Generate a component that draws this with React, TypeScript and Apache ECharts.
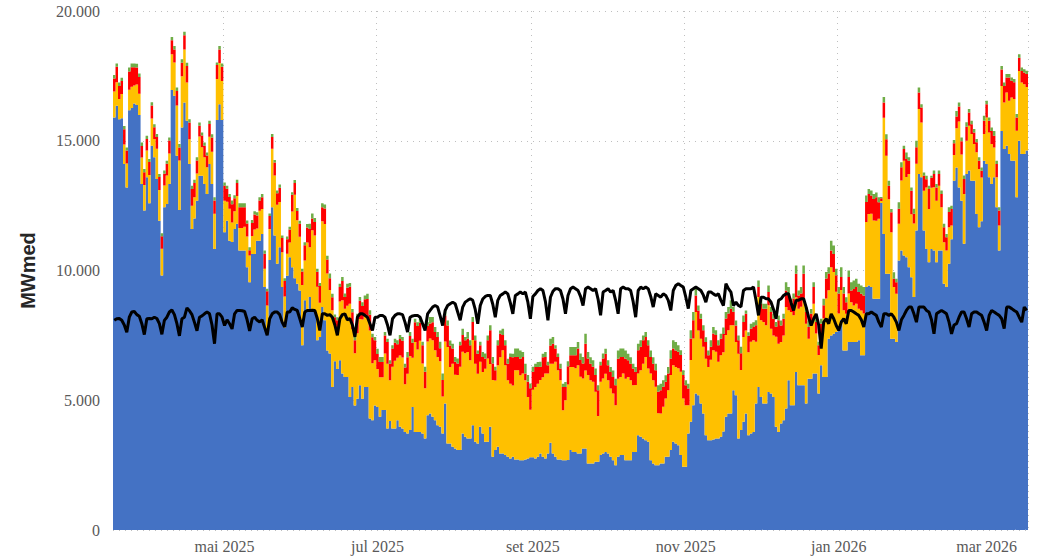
import React, { useEffect, useRef } from "react";
import * as echarts from "echarts";

const START_DATE = "2025-03-18";
const DAY_COUNT = 365;
const MONTHS_PT = ["jan", "fev", "mar", "abr", "mai", "jun", "jul", "ago", "set", "out", "nov", "dez"];
const LABEL_MONTHS = [0, 2, 4, 6, 8, 10];
const Y_TICKS = [0, 5000, 10000, 15000, 20000];

const blue = [
  15900,16350,15830,15870,14100,13200,16180,16260,16440,16380,
  15990,13330,12310,13590,12590,14810,14360,13530,11920,9810,
  12440,12560,13330,16960,16730,14420,12330,15510,16470,15770,
  14100,11600,12000,12690,13650,13650,13330,12950,14100,13330,
  10830,15800,16410,15800,11470,11920,11150,11100,11600,11800,
  10770,10770,10770,10130,9550,10640,10640,11150,11150,11410,
  9360,7700,10400,12440,11350,10260,10900,9360,7800,9800,
  10510,10130,9700,9490,9230,7120,8850,8460,8980,8460,
  8460,7310,7440,8590,8080,6920,6800,5510,6500,6200,
  6540,6030,5900,5900,5130,5510,4800,5060,5580,5060,
  5510,5510,4300,4230,4800,4740,4360,4620,4620,3910,
  4200,3910,3910,4230,3980,3910,3780,3720,3850,4740,
  3780,3780,3780,3720,3530,4420,4490,4360,4230,4040,
  3980,3720,4870,3330,3330,3210,3140,3080,3080,3720,
  3590,3530,3530,4040,3400,3330,3980,3720,3400,3400,
  3980,2820,3080,3210,2950,2950,2890,2820,2760,2820,
  2720,2720,2690,2690,2720,2760,2800,2800,2760,2820,
  2950,2820,2760,2950,3360,2950,2820,2720,2720,2690,
  2690,2700,3080,3010,3010,2950,2950,3140,3140,2560,
  2560,2560,2630,2630,2890,2950,3010,2950,2820,2690,
  2500,2820,2890,2890,2690,2690,2690,3010,3010,3650,
  3590,3530,3460,3400,2690,2560,2500,2500,2560,2560,
  2820,2820,3080,3400,3330,3270,2890,2440,2440,3720,
  4170,4810,5260,5190,4870,4490,3650,3460,3460,3490,
  3530,3530,3590,3800,4360,4490,4490,5390,5190,3530,
  3850,4170,4490,3650,3720,3780,4870,5510,5130,4870,
  4870,5320,5260,5130,3980,3780,4100,4230,4680,5770,
  4810,4810,6090,5580,5580,5580,4870,5830,5830,6030,
  6030,5260,6350,5900,5900,7370,7500,7560,7630,7690,
  8080,6920,6920,7240,7240,7240,7240,7310,6730,6730,
  9360,9420,9360,8910,8910,8910,12600,11410,9870,9870,
  7370,7370,7240,10390,10770,10580,10510,10130,9740,8980,
  11540,13720,13590,11540,10830,10320,10830,10770,10320,10770,
  10770,9490,9360,10260,11200,13460,13970,13200,12690,11030,
  13720,13850,13460,13460,12180,11670,11900,14230,14100,13590,
  13330,13590,12440,10770,15380,14680,14810,14490,14230,14230,
  12820,15000,14490,14490,14620
];

const yellow = [
  1000,900,780,930,760,920,790,820,690,790,
  820,1020,980,1030,1090,1050,710,1160,1180,1030,
  840,1100,1180,1370,1290,1940,1910,1980,2050,1470,
  960,900,820,1050,1510,1100,1030,1030,1050,1250,
  1360,1580,1590,1500,1220,730,1230,750,680,1070,
  870,870,920,1180,1030,690,940,470,1150,960,
  710,950,1200,2250,2310,2270,1740,1340,1200,850,
  570,2140,3220,2450,2070,2320,1540,2620,1920,3090,
  2890,2060,1320,3310,3710,2960,2450,2960,1400,1530,
  2270,2820,2630,2740,3590,2240,2010,2520,2550,3050,
  2800,2750,3390,2200,1740,1460,1530,1270,2180,2500,
  1570,2380,2610,2410,2740,2740,1840,2300,2860,1900,
  3460,3180,3510,2700,1930,2840,2890,2950,2700,2630,
  2520,1420,2390,3720,2950,3200,2840,2890,3210,3150,
  3220,3330,3010,3280,3010,2690,2500,2370,2810,3210,
  2420,2960,2680,3140,3710,3980,3460,2950,2880,2750,
  3440,3440,3270,3340,3050,2370,1830,2600,2750,2820,
  2830,3070,3270,3080,3050,3460,3660,3440,3050,1920,
  2310,2910,3200,3270,3220,3400,2960,2700,3010,3410,
  3210,3150,2700,1760,2820,2890,3010,2820,2630,2570,
  2310,3010,3010,3140,3140,3210,3080,2570,2580,2380,
  2570,2880,3210,2820,3340,3210,3020,2000,1930,2190,
  2250,2570,2890,2950,2950,2960,3210,2630,2370,1090,
  2380,2570,3140,2500,2500,2570,2950,2820,3100,3440,
  3340,2950,3140,3050,3150,3210,3400,2500,2050,3260,
  2320,3270,3200,3200,3530,3530,2380,3470,2950,3150,
  3020,3340,2500,2370,3470,3400,3140,3270,3910,2700,
  3590,3470,2880,2950,3020,3260,3080,1540,2050,2690,
  1540,1480,1150,2260,3020,1870,2630,2380,1550,650,
  1170,1550,1410,1870,1540,1410,1480,1220,1730,1610,
  2510,2760,2830,3020,3010,3080,80,4480,4550,2880,
  4100,1990,1860,1410,2700,3650,3090,3590,2430,2830,
  2570,2500,2110,1530,2370,2050,2360,2440,2370,2500,
  1670,1600,1410,1410,530,990,1510,2540,1780,1920,
  1280,1730,1800,1410,2380,2240,1680,1030,1800,1730,
  1540,1150,1150,960,1730,1790,2050,2050,2440,2380,
  2570,2690,2750,2690,2450
];

const red = [
  500,600,500,500,580,500,700,750,700,650,
  650,450,500,450,500,500,450,450,500,480,
  450,450,500,540,500,560,500,520,550,640,
  640,640,550,500,420,450,450,450,500,550,
  510,540,520,550,580,500,450,700,500,500,
  800,800,750,500,200,500,580,500,400,450,
  580,550,500,450,500,450,550,550,600,550,
  500,650,450,350,500,520,580,580,700,450,
  520,580,640,540,600,540,450,500,300,350,
  550,750,450,700,650,640,500,600,700,520,
  580,640,600,1000,770,580,580,580,700,830,
  640,700,700,520,640,640,640,640,770,580,
  770,900,700,700,640,600,580,700,700,770,
  500,640,1000,830,830,580,500,450,830,640,
  500,520,580,700,900,770,640,580,400,700,
  1300,640,400,770,900,580,770,640,1030,1090,
  510,510,640,640,260,580,830,700,770,640,
  510,770,640,320,700,770,510,510,450,900,
  510,700,450,450,500,640,640,580,1030,640,
  640,580,640,1000,640,770,770,580,640,640,
  770,770,770,640,770,640,640,640,500,900,
  900,900,770,900,640,640,640,830,900,770,
  640,640,640,640,640,640,640,900,770,640,
  830,700,640,770,770,640,640,450,500,640,
  640,640,640,700,640,640,640,520,640,520,
  640,580,640,640,510,510,640,380,640,510,
  640,510,640,640,380,900,640,640,640,640,
  320,640,900,510,510,1030,450,450,450,640,
  450,380,450,500,770,640,640,700,640,770,
  500,640,450,640,450,640,640,640,640,700,
  770,770,700,830,900,640,100,580,640,520,
  770,320,450,580,510,450,700,510,900,380,
  640,640,580,580,320,770,380,510,510,450,
  510,580,510,580,640,450,450,580,510,580,
  540,510,380,450,380,320,260,510,510,450,
  510,450,510,580,640,640,580,900,640,640,
  510,510,450,450,500
];

const green = [
  130,130,130,130,130,120,150,150,150,150,
  130,130,120,120,120,120,120,120,120,120,
  120,120,120,130,130,130,130,130,130,130,
  130,130,130,120,120,120,120,120,120,120,
  120,100,130,130,120,120,120,150,120,130,
  150,150,150,120,120,120,120,120,120,130,
  120,100,100,120,100,100,120,100,100,110,
  110,100,120,120,120,110,120,130,200,200,
  150,120,120,150,150,150,180,130,100,120,
  130,150,130,150,150,130,130,150,150,150,
  150,200,180,130,130,200,200,200,130,130,
  130,130,150,150,150,150,150,200,150,150,
  130,150,150,130,190,150,250,200,190,190,
  250,250,200,190,190,190,190,190,130,250,
  130,250,190,190,190,130,130,190,190,190,
  190,250,130,190,130,250,190,190,130,130,
  320,320,320,190,380,260,190,190,130,190,
  190,130,190,130,260,260,130,130,190,130,
  190,190,320,320,320,250,250,250,380,250,
  250,250,250,190,130,190,190,190,190,250,
  250,320,320,320,320,250,250,190,190,250,
  250,190,190,190,250,250,250,250,250,250,
  250,250,320,320,320,250,190,190,190,190,
  320,320,320,190,190,190,190,190,250,250,
  190,190,190,250,250,250,320,190,190,190,
  250,250,130,130,190,190,190,250,190,190,
  190,250,190,190,190,190,190,190,320,250,
  190,190,320,190,250,320,190,250,190,190,
  190,130,190,250,250,250,380,320,250,250,
  380,250,190,250,320,320,320,320,320,320,
  250,190,190,190,190,190,50,220,190,190,
  130,250,130,250,190,130,250,130,130,190,
  250,190,130,130,130,130,80,130,130,130,
  130,130,130,190,130,130,220,150,150,130,
  170,130,130,130,130,130,130,190,130,130,
  130,190,130,130,130,130,130,130,130,130,
  130,130,130,130,130
];

const load = [
  8080,8140,8150,8080,7900,7620,8200,
  8400,8420,8300,8240,7950,7530,8140,
  8150,8140,8200,8150,7950,7540,8080,
  8200,8400,8480,8300,7950,7480,8140,
  8200,8560,8450,8300,8000,7680,8200,
  8250,8330,8400,8330,7900,7180,8330,
  8330,8200,7880,8100,7950,7750,8330,
  8460,8460,8450,8420,8100,7670,8140,
  8200,8080,8020,8100,7800,7500,8140,
  8330,8400,8400,8300,8000,7820,8400,
  8400,8560,8500,8460,8150,7820,8400,
  8460,8460,8470,8460,8150,7690,8330,
  8330,8270,8300,8200,7900,7500,8140,
  8300,8330,8100,8150,7900,7440,8200,
  8330,8330,8270,8200,7950,7690,8200,
  8200,8270,8270,8200,7900,7500,8140,
  8270,8330,8330,8300,8000,7630,8200,
  8250,8270,8270,8200,7950,7690,8330,
  8460,8590,8650,8590,8250,7880,8460,
  8650,8720,8780,8720,8400,8080,8590,
  8780,8850,8910,8850,8500,7950,8650,
  8900,9000,9040,9040,8700,8200,8850,
  9040,9100,9170,9100,8750,8330,9040,
  9100,9170,9100,9170,8780,8140,9000,
  9100,9230,9300,9230,8800,8080,8970,
  9200,9300,9300,9230,8900,8330,9040,
  9300,9360,9300,9230,9000,8650,9300,
  9360,9300,9230,9300,8900,8270,9170,
  9230,9300,9170,9230,8850,8330,9300,
  9360,9300,9300,9230,8800,8200,9230,
  9360,9300,9360,9300,9000,8590,9100,
  9040,8970,9100,9040,8850,8460,9230,
  9420,9490,9420,9360,8970,8530,9230,
  9300,9360,9300,9230,9050,8780,9170,
  9170,9100,9040,9100,8850,8650,9490,
  9300,9170,8650,8780,8650,8600,9230,
  9300,9300,9300,9360,8850,8270,8970,
  8970,8910,8910,8780,8500,8140,8850,
  8910,9040,9100,9100,8750,8460,8850,
  8850,8910,8910,8590,8200,7880,8140,
  8330,7900,6990,8010,8140,7950,8330,
  8140,7880,7690,8010,8140,7950,8460,
  8460,8400,8330,8270,8100,7820,8330,
  8330,8400,8330,8270,8010,7820,8330,
  8330,8270,8330,8200,8010,7690,8100,
  8270,8460,8590,8590,8330,8010,8590,
  8590,8590,8460,8400,8100,7560,8330,
  8400,8460,8400,8330,8010,7560,7900,
  7950,8200,8400,8400,8140,7820,8330,
  8400,8400,8330,8270,8010,7690,8270,
  8460,8400,8330,8270,8140,7760,8590,
  8590,8530,8460,8400,8200,8010,8590,
  8460
];

function buildDates(): string[] {
  const out: string[] = [];
  const [y, m, d] = START_DATE.split("-").map(Number);
  const t0 = Date.UTC(y, m - 1, d);
  for (let i = 0; i < DAY_COUNT; i++) {
    const dt = new Date(t0 + i * 86400000);
    const mm = String(dt.getUTCMonth() + 1).padStart(2, "0");
    const dd = String(dt.getUTCDate()).padStart(2, "0");
    out.push(`${dt.getUTCFullYear()}-${mm}-${dd}`);
  }
  return out;
}

function isLabelDay(v: string): boolean {
  const parts = v.split("-");
  return parts[2] === "01" && LABEL_MONTHS.indexOf(Number(parts[1]) - 1) >= 0;
}

function fmtDate(v: string): string {
  const parts = v.split("-");
  return `${MONTHS_PT[Number(parts[1]) - 1]} ${parts[0]}`;
}

function fmtNum(v: number): string {
  return String(Math.round(v)).replace(/\B(?=(\d{3})+(?!\d))/g, ".");
}

const SERIF = "'Liberation Serif', 'Times New Roman', 'DejaVu Serif', serif";
const SANS = "'Liberation Sans', Arial, sans-serif";

function barSeries(name: string, data: number[], color: string) {
  return {
    type: "bar",
    name,
    data,
    stack: "gen",
    barCategoryGap: "0%",
    large: true,
    largeThreshold: 50,
    silent: true,
    itemStyle: { color },
  };
}

export default function App() {
  const ref = useRef<HTMLDivElement | null>(null);

  useEffect(() => {
    if (!ref.current) return;
    const chart = echarts.init(ref.current, null, { renderer: "svg" });
    const dates = buildDates();
    chart.setOption({
      animation: false,
      backgroundColor: "#ffffff",
      grid: { left: 113, right: 15, top: 11, bottom: 27, containLabel: false },
      xAxis: {
        type: "category",
        data: dates,
        boundaryGap: true,
        axisLine: { show: false },
        axisTick: { show: false },
        axisLabel: {
          interval: (_i: number, v: string) => isLabelDay(v),
          formatter: (v: string) => fmtDate(v),
          color: "#595959",
          fontFamily: SERIF,
          fontSize: 16,
          margin: 8,
        },
        splitLine: {
          show: true,
          interval: (_i: number, v: string) => isLabelDay(v),
          lineStyle: { type: [1, 5], color: "#bfbfbf", width: 1 },
        },
      },
      yAxis: {
        type: "value",
        min: Y_TICKS[0],
        max: Y_TICKS[Y_TICKS.length - 1],
        interval: Y_TICKS[1] - Y_TICKS[0],
        name: "MWmed",
        nameLocation: "middle",
        nameGap: 75,
        nameRotate: 90,
        nameTextStyle: {
          fontFamily: SANS,
          fontWeight: "bold",
          fontSize: 20,
          color: "#262626",
        },
        axisLine: { show: false },
        axisTick: { show: false },
        axisLabel: {
          formatter: (v: number) => fmtNum(v),
          color: "#595959",
          fontFamily: SERIF,
          fontSize: 16,
          margin: 13,
        },
        splitLine: { lineStyle: { type: [1, 5], color: "#bfbfbf", width: 1 } },
      },
      series: [
        barSeries("Hidráulica", blue, "#4472C4"),
        barSeries("Solar", yellow, "#FFC000"),
        barSeries("Eólica", red, "#FF0000"),
        barSeries("Térmica", green, "#70AD47"),
        {
          type: "line",
          name: "Carga",
          data: load,
          symbol: "none",
          silent: true,
          z: 10,
          lineStyle: { color: "#000000", width: 3 },
          itemStyle: { color: "#000000" },
        },
      ],
    });
    return () => chart.dispose();
  }, []);

  return (
    <div
      ref={ref}
      style={{ position: "fixed", left: 0, top: 0, width: 1043, height: 557 }}
    />
  );
}
